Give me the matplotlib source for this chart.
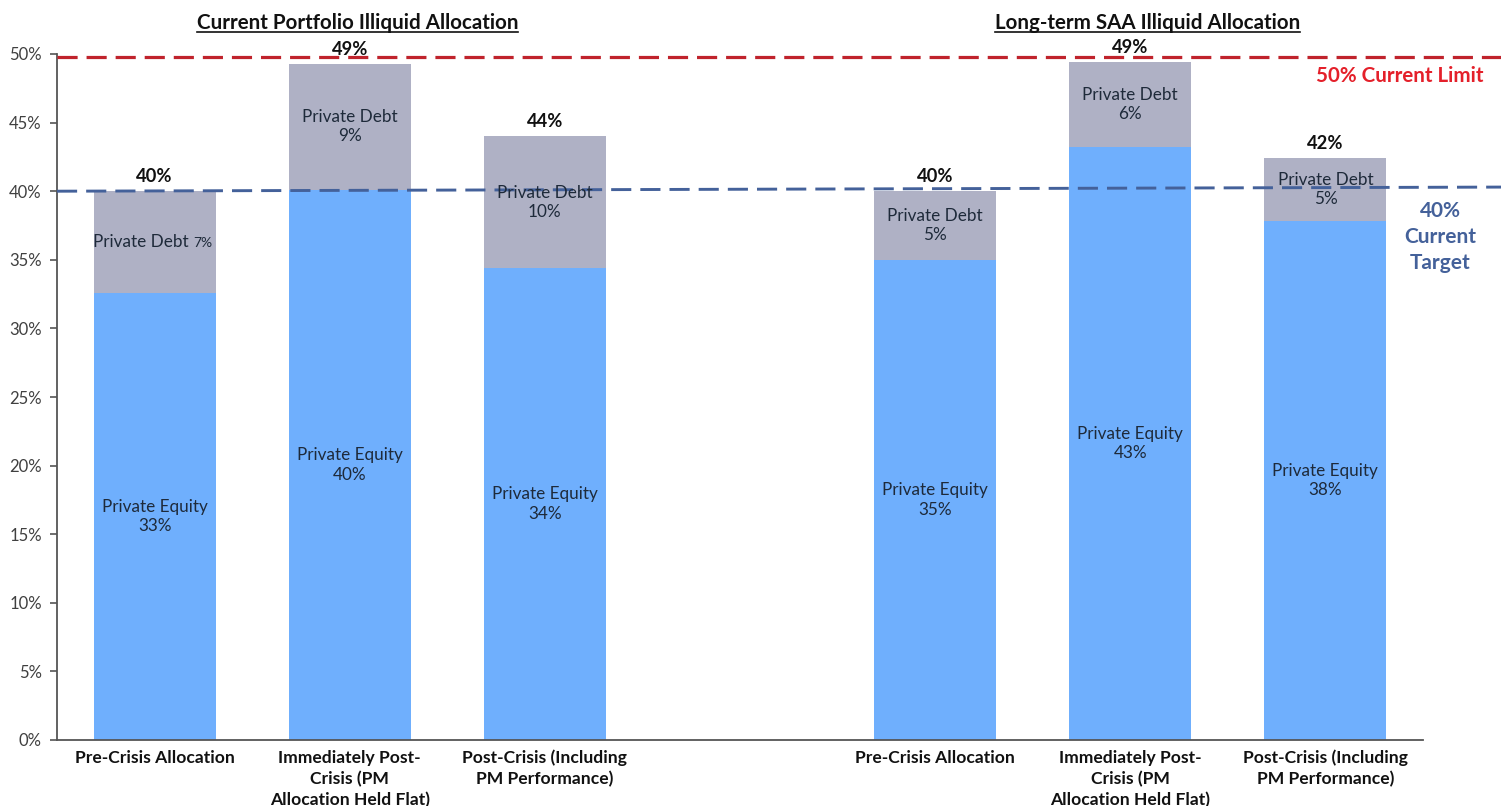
import matplotlib
matplotlib.use("Agg")
import matplotlib.pyplot as plt
import matplotlib.transforms as mtransforms
from matplotlib.ticker import FuncFormatter

plt.rcParams['font.family'] = ['Lato', 'DejaVu Sans']

# ---- data ----
positions = [0, 1, 2, 4, 5, 6]
categories = ["Pre-Crisis Allocation",
              "Immediately Post-\nCrisis (PM\nAllocation Held Flat)",
              "Post-Crisis (Including\nPM Performance)"] * 2
private_equity = [32.6, 40.1, 34.4, 35.0, 43.2, 37.8]
private_debt = [7.4, 9.2, 9.6, 5.0, 6.2, 4.6]
group_titles = ["Current Portfolio Illiquid Allocation", "Long-term SAA Illiquid Allocation"]
limit_value = 49.8
target_values = [40.0, 40.3]
y_ticks = [0, 5, 10, 15, 20, 25, 30, 35, 40, 45, 50]

# ---- styles ----
PE_COLOR = "#6FAFFD"
PD_COLOR = "#AFB1C5"
LABEL_COLOR = "#1E2A3A"
RED = "#C0232C"
RED_TEXT = "#E4202A"
BLUE = "#44619A"

fig = plt.figure(figsize=(15.01, 8.06), dpi=100)
ax = fig.add_axes([57/1501, 1 - 740/806, (1423-57)/1501, (740-54)/806])

bw = 0.625
ax.bar(positions, private_equity, width=bw, color=PE_COLOR, zorder=2)
ax.bar(positions, private_debt, bottom=private_equity, width=bw, color=PD_COLOR, zorder=2)

ax.set_xlim(-0.5, 6.5)
ax.set_ylim(0, 50)
ax.set_yticks(y_ticks)
ax.yaxis.set_major_formatter(FuncFormatter(lambda v, p: f"{v:.0f}%"))
ax.tick_params(axis='y', labelsize=12, colors="#555555", labelcolor="#404040",
               length=5, width=1.2, direction='out', pad=6)
ax.set_xticks(positions)
ax.set_xticklabels(categories, fontsize=12.6, fontweight='bold', color="#111111",
                   linespacing=1.36, va='top')
ax.tick_params(axis='x', length=0, pad=7)
for s in ['top', 'right']:
    ax.spines[s].set_visible(False)
for s in ['left', 'bottom']:
    ax.spines[s].set_color("#555555")
    ax.spines[s].set_linewidth(1.3)

# reference lines (extend beyond axes to the right edge)
x_end = 6.9
ax.plot([-0.5, x_end], [limit_value, limit_value], color=RED, lw=2.3,
        linestyle=(0, (6.3, 2.8)), clip_on=False, zorder=3)
ax.plot([-0.5, x_end], target_values, color=BLUE, lw=2.1,
        linestyle=(0, (6.9, 3.1)), clip_on=False, zorder=3)

# labels
for i, (x, pe, pd) in enumerate(zip(positions, private_equity, private_debt)):
    total = pe + pd
    ax.text(x, pe / 2, f"Private Equity\n{pe:.0f}%", ha='center', va='center',
            fontsize=12.3, color=LABEL_COLOR, linespacing=1.25, zorder=4)
    if i == 0:
        ax.text(x + 0.174, pe + pd / 2, "Private Debt", ha='right', va='center',
                fontsize=12.3, color=LABEL_COLOR, zorder=4)
        ax.text(x + 0.2, pe + pd / 2 - 0.05, f"{pd:.0f}%", ha='left', va='center',
                fontsize=10, color=LABEL_COLOR, zorder=4)
    else:
        ax.text(x, pe + pd / 2, f"Private Debt\n{pd:.0f}%", ha='center', va='center',
                fontsize=12.3, color=LABEL_COLOR, linespacing=1.25, zorder=4)
    ax.text(x, total + 1.05, f"{total:.0f}%", ha='center', va='center',
            fontsize=13.2, fontweight='bold', color="#111111", zorder=4)

# group titles (underlined)
blend = mtransforms.blended_transform_factory(ax.transData, fig.transFigure)
title_texts = []
for title, xc in zip(group_titles, [1.04, 5.09]):
    title_texts.append(ax.text(xc, 1 - 23/806, title, transform=blend,
                               ha='center', va='center', fontsize=14.8,
                               fontweight='bold', color="#111111"))

fig.canvas.draw()
renderer = fig.canvas.get_renderer()
W, H = fig.bbox.width, fig.bbox.height
for t in title_texts:
    bb = t.get_window_extent(renderer)
    y = bb.y0 + 1
    fig.add_artist(plt.Line2D([bb.x0 / W, bb.x1 / W], [y / H, y / H],
                              transform=fig.transFigure, color="#111111", lw=1.2))

# right-hand annotations
fig.text(1400/1501, 1 - 76/806, "50% Current Limit", ha='center', va='center',
         fontsize=14.8, fontweight='bold', color=RED_TEXT)
fig.text(1440/1501, 1 - 237/806, "40%\nCurrent\nTarget", ha='center', va='center',
         fontsize=15, fontweight='bold', color=BLUE, linespacing=1.36)

fig.savefig("out.png", dpi=100, facecolor="white")
